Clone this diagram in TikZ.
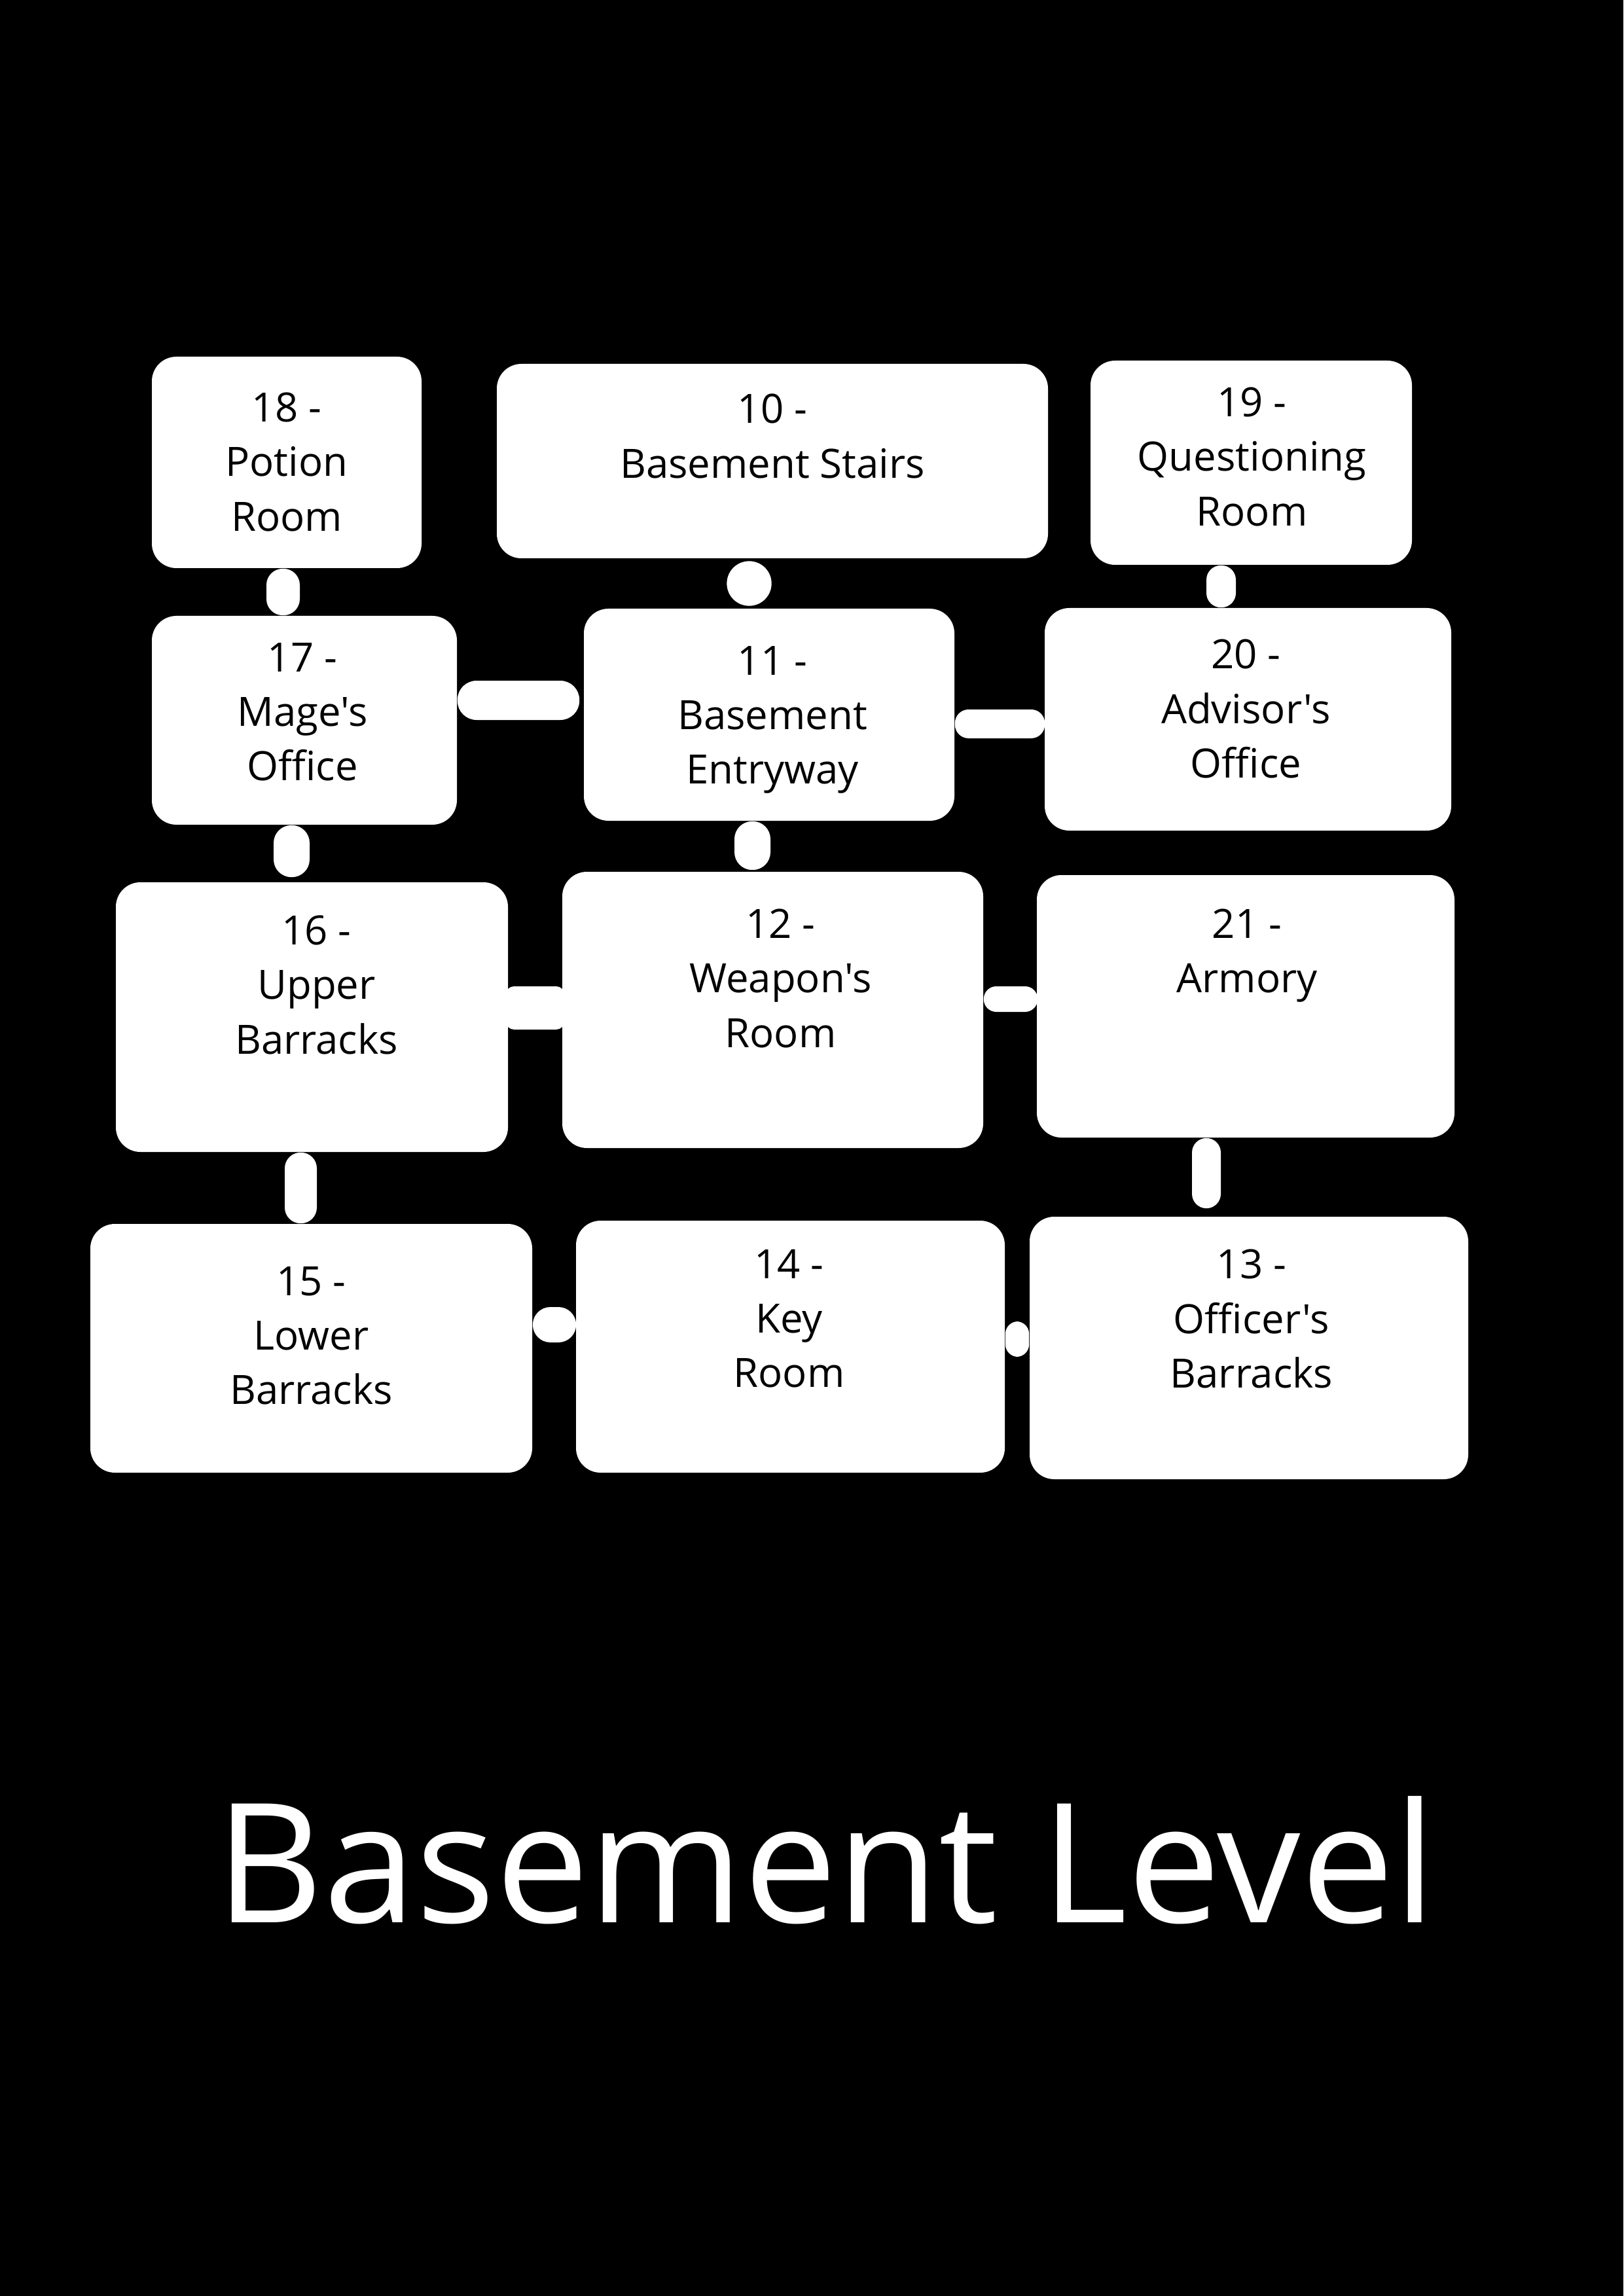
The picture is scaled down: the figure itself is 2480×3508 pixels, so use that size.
\documentclass[tikz,border=0pt]{standalone}
\usepackage{fontspec}
\setmainfont{Open Sans}[Ligatures=TeXOff]
\usetikzlibrary{fit,calc}
\tikzset{
  room/.style={fill=white, draw=none, rounded corners=9pt, inner sep=0pt},
  conn/.style={fill=white, draw=none, rounded corners=#1},
  conn/.default=6pt,
  lbl/.style={anchor=north, inner sep=0pt, align=center, text=black,
              font=\fontsize{14.8pt}{20pt}\selectfont},
  ttlstyle/.style={anchor=base, inner sep=0pt, text=white,
              font=\fontsize{61pt}{72pt}\selectfont}
}
\begin{document}
\begin{tikzpicture}[x=0.24pt, y=-0.24pt]
\fill[black] (0,0) rectangle (2480,3508);
\useasboundingbox (0,0) rectangle (2480,3508);

% rooms
\node[room, fit={(232,545) (644,868)}] (b18) {};
\node[room, fit={(759,556) (1601,853)}] (b10) {};
\node[room, fit={(1666,551) (2157,863)}] (b19) {};
\node[room, fit={(232,941) (698,1260)}] (b17) {};
\node[room, fit={(892,930) (1458,1254)}] (b11) {};
\node[room, fit={(1596,929) (2217,1269)}] (b20) {};
\node[room, fit={(177,1348) (776,1760)}] (b16) {};
\node[room, fit={(859,1332) (1502,1754)}] (b12) {};
\node[room, fit={(1584,1337) (2222,1738)}] (b21) {};
\node[room, fit={(138,1870) (813,2250)}] (b15) {};
\node[room, fit={(880,1865) (1535,2250)}] (b14) {};
\node[room, fit={(1573,1859) (2243,2260)}] (b13) {};

% connectors
\fill[conn=6pt] ($(b18.south)+(-31,0)$) rectangle ($(b17.north)+(-7,0)$);
\fill[white] ($(b10.south)!0.5!(b11.north)+(-33,0)$) circle[radius=8.2pt];
\fill[conn=5.3pt] ($(b19.south)+(-68.5,0)$) rectangle ($(b20.north)+(-18.5,0)$);
\fill[conn=7pt] ($(b17.east)+(0,-60.5)$) rectangle ($(b11.west)+(-6,8)$);
\fill[conn=5pt] ($(b11.east)+(0,-8)$) rectangle ($(b20.west)+(1,29)$);
\fill[conn=6.5pt] ($(b17.south)+(-47,0)$) rectangle ($(b16.north)+(-3.5,-7)$);
\fill[conn=6.5pt] ($(b11.south)+(-53,0)$) rectangle ($(b12.north)+(-3.5,-2)$);
\fill[conn=3pt] ($(b16.east)+(-4,-47)$) rectangle ($(b12.west)+(4,30)$);
\fill[conn=4.6pt] ($(b12.east)+(0,-36)$) rectangle ($(b21.west)+(2,8.5)$);
\fill[conn=5.8pt] ($(b16.south)+(-41.5,0)$) rectangle ($(b15.north)+(8.5,0)$);
\fill[conn=5.3pt] ($(b21.south)+(-82,0)$) rectangle ($(b13.north)+(-43,-12)$);
\fill[conn=6.5pt] ($(b15.east)+(0,-63)$) rectangle ($(b14.west)+(1,-6.5)$);
\fill[conn=4.6pt] ($(b14.east)+(0,-38.5)$) rectangle ($(b13.west)+(0,13.5)$);

% labels
\node[lbl] (t18) at ($(b18.north)+(0,55)$) {18 -\\Potion\\Room};
\node[lbl] (t10) at ($(b10.north)+(0,46)$) {10 -\\Basement Stairs};
\node[lbl] (t19) at ($(b19.north)+(1,41)$) {19 -\\Questioning\\Room};
\node[lbl] (t17) at ($(b17.north)+(-3,41)$) {17 -\\Mage's\\Office};
\node[lbl] (t11) at ($(b11.north)+(5,57)$) {11 -\\Basement\\Entryway};
\node[lbl] (t20) at ($(b20.north)+(-3,48)$) {20 -\\Advisor's\\Office};
\node[lbl] (t16) at ($(b16.north)+(7,51)$) {16 -\\Upper\\Barracks};
\node[lbl] (t12) at ($(b12.north)+(12,57)$) {12 -\\Weapon's\\Room};
\node[lbl] (t21) at ($(b21.north)+(2,52)$) {21 -\\Armory};
\node[lbl] (t15) at ($(b15.north)+(0,65)$) {15 -\\Lower\\Barracks};
\node[lbl] (t14) at ($(b14.north)+(-2,44)$) {14 -\\Key\\Room};
\node[lbl] (t13) at ($(b13.north)+(4,50)$) {13 -\\Officer's\\Barracks};

% title
\node[ttlstyle] (ttl) at (1262,2937) {Basement Level};
\end{tikzpicture}
\end{document}
